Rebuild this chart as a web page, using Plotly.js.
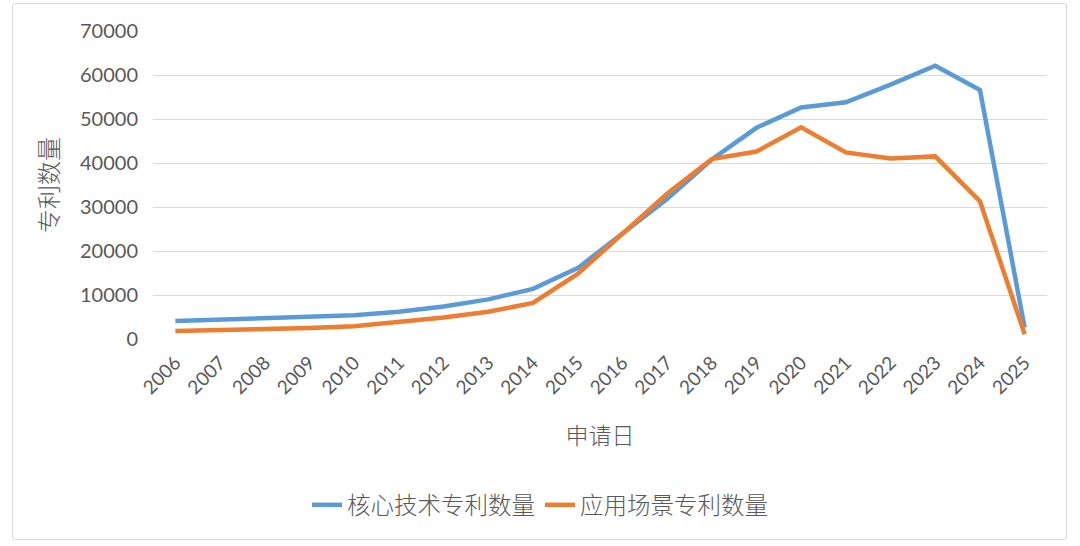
<!DOCTYPE html>
<html>
<head>
<meta charset="utf-8">
<script src="https://cdn.plot.ly/plotly-3.0.1.min.js"></script>
<style>
  html, body { margin: 0; padding: 0; background: #ffffff; }
  #wrap { position: relative; width: 1080px; height: 546px; }
  #chart { width: 1080px; height: 546px; }
  #frame { position: absolute; left: 12px; top: 3px; width: 1055px; height: 537px;
           border: 1px solid #D9D9D9; border-radius: 3px; pointer-events: none; box-sizing: border-box; }
</style>
</head>
<body>
<div id="wrap">
  <div id="chart"></div>
  <div id="frame"></div>
</div>
<script>
const years = ["2006","2007","2008","2009","2010","2011","2012","2013","2014","2015",
               "2016","2017","2018","2019","2020","2021","2022","2023","2024","2025"];
const coreTech = [4100, 4400, 4600, 4900, 5400, 6200, 7400, 9000, 11400, 16100,
                  23800, 31800, 40800, 48000, 52600, 53800, 57800, 62100, 56600, 2600];
const appScene = [1800, 1950, 2200, 2500, 2900, 3800, 4900, 6200, 8200, 14800,
                  24000, 33000, 40900, 42600, 48100, 42400, 41000, 41500, 31300, 1100];
const yTicks = [0, 10000, 20000, 30000, 40000, 50000, 60000, 70000];

const numFont = "Lato, 'Liberation Sans', sans-serif";
const cjkFont = "'Noto Sans CJK SC', sans-serif";
const textColor = "#595959";

const traces = [
  { x: years, y: coreTech, type: "scatter", mode: "lines", name: "核心技术专利数量",
    line: { color: "#5B9BD5", width: 4.5 } },
  { x: years, y: appScene, type: "scatter", mode: "lines", name: "应用场景专利数量",
    line: { color: "#ED7D31", width: 4.5 } }
];

const layout = {
  width: 1080, height: 546,
  margin: { l: 153, r: 33, t: 31, b: 207 },
  paper_bgcolor: "#ffffff", plot_bgcolor: "#ffffff",
  showlegend: true,
  legend: { orientation: "h", xref: "container", yref: "container", x: 0.5, xanchor: "center",
            y: 0.075, yanchor: "middle",
            font: { family: cjkFont, size: 23.5, weight: 300, color: textColor },
            tracegroupgap: 0 },
  xaxis: {
    type: "category", range: [-0.5, years.length - 0.5], tickangle: -45,
    showgrid: false, zeroline: false, showline: false, ticks: "",
    ticklabelstandoff: 8,
    tickfont: { family: numFont, size: 19, color: textColor },
    title: { text: "申请日", font: { family: cjkFont, size: 23, weight: 300, color: textColor }, standoff: 30 },
    automargin: false
  },
  yaxis: {
    range: [0, 70000], tickvals: yTicks, ticktext: yTicks.map(String),
    showgrid: true, gridcolor: "#D9D9D9", gridwidth: 1, zeroline: false,
    showline: false, ticks: "", ticklabelstandoff: 14,
    tickfont: { family: numFont, size: 20, color: textColor },
    title: { text: "专利数量", font: { family: cjkFont, size: 24, weight: 300, color: textColor }, standoff: 14 },
    automargin: false
  }
};

Plotly.newPlot("chart", traces, layout, { displayModeBar: false, staticPlot: true });
</script>
</body>
</html>
